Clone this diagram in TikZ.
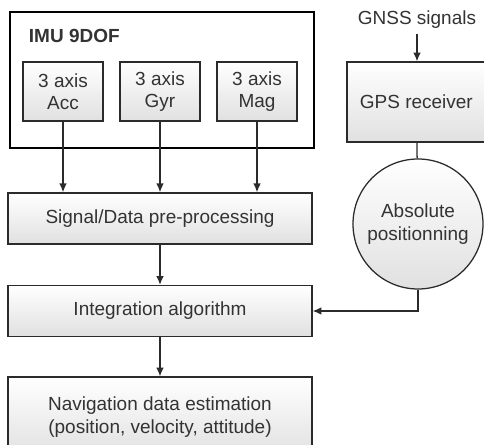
\documentclass[tikz,border=0pt]{standalone}
\usepackage{fontspec}
\setmainfont{Liberation Sans}
\usepackage{tikz}
\usetikzlibrary{arrows.meta, positioning, calc}
\definecolor{figline}{HTML}{2B2B2B}
\definecolor{figtext}{HTML}{333333}
\tikzset{
  figbox/.style={draw=figline, line width=0.9pt, top color=white, bottom color=black!12,
    align=center, inner sep=3pt, text=figtext, font=\fontsize{13.5}{16}\selectfont},
  sensorbox/.style={figbox, minimum width=2.0cm, minimum height=1.475cm},
  widebox/.style={figbox, minimum width=7.6cm, minimum height=1.275cm},
  figcircle/.style={figbox, circle, minimum size=3.25cm, inner sep=0pt},
  imuframe/.style={draw=black, line width=2.1pt},
  figarrow/.style={-{Latex[length=2.2mm, width=1.9mm]}, line width=0.9pt, figline},
  figlink/.style={line width=0.9pt, figline},
  figlabel/.style={text=figtext, font=\fontsize{13.5}{16}\selectfont},
}

\begin{document}
\begin{tikzpicture}
  \useasboundingbox (0,0) rectangle (12.1,-11.125);
  % IMU block
  \draw[imuframe] (0.25,-0.3) rectangle (7.85,-3.7);
  \node[figlabel, anchor=west, font=\fontsize{13.5}{16}\selectfont\bfseries] (imu) at (0.6,-0.9) {IMU 9DOF};
  \node[sensorbox] (acc) at (1.575,-2.29) {3 axis\\Acc};
  \node[sensorbox] (gyr) at (4.0,-2.29) {3 axis\\Gyr};
  \node[sensorbox] (mag) at (6.425,-2.29) {3 axis\\Mag};
  % main chain
  \node[widebox] (pre) at (4.0,-5.46) {Signal/Data pre-processing};
  \node[widebox] (integ) at (4.0,-7.775) {Integration algorithm};
  \node[widebox, minimum height=2.0cm] (nav) at (4.0,-10.425) {Navigation data estimation\\(position, velocity, attitude)};
  % GNSS side
  \node[figlabel] (gnss) at (10.425,-0.5) {GNSS signals};
  \node[figbox, minimum width=3.475cm, minimum height=2.0cm] (gps) at (10.41,-2.55) {GPS receiver};
  \node[figcircle] (abs) at (10.45,-5.6) {Absolute\\positionning};
  \draw[figarrow] (acc) -- (acc |- pre.north);
  \draw[figarrow] (gyr) -- (gyr |- pre.north);
  \draw[figarrow] (mag) -- (mag |- pre.north);
  \draw[figarrow] (pre) -- (integ);
  \draw[figarrow] (integ) -- (nav);
  \draw[figarrow] (gnss) -- (gnss |- gps.north);
  \draw[figlink] (gps) -- (abs);
  \draw[figarrow] (abs.south) |- (integ.east);
\end{tikzpicture}
\end{document}
